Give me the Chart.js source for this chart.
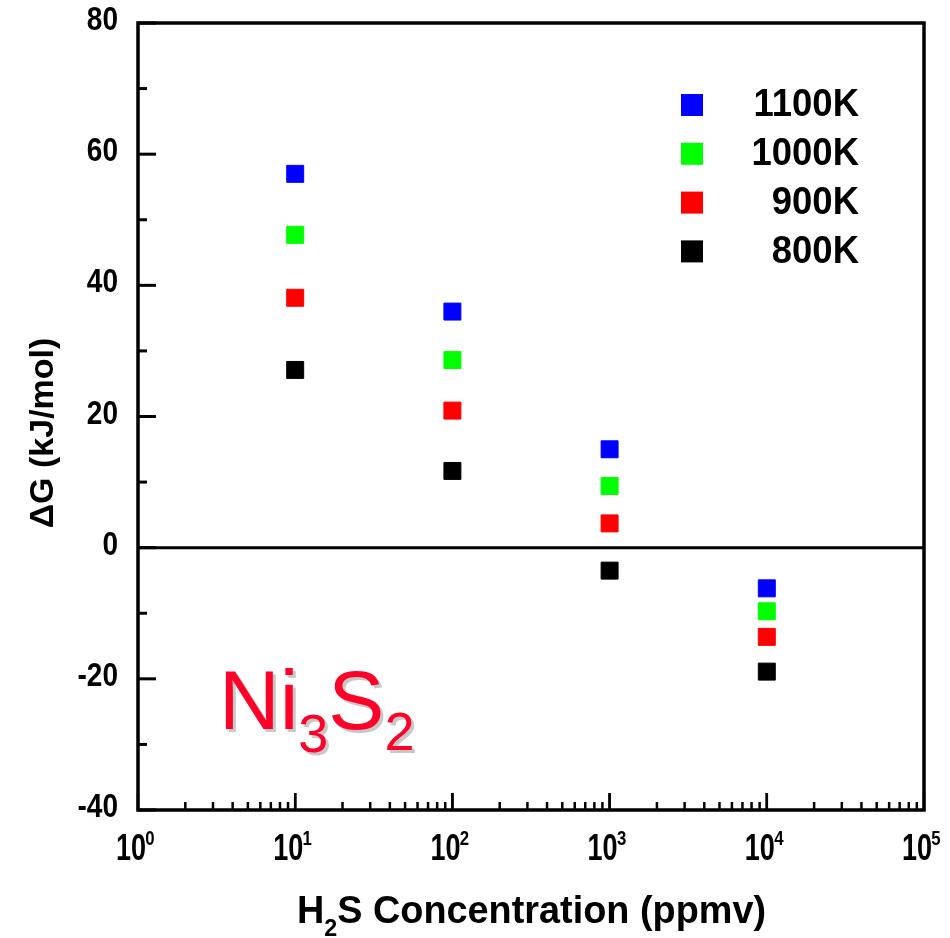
<html>
<head>
  <title>Ni3S2</title>
  <script src="https://cdn.jsdelivr.net/npm/chart.js@4.4.0/dist/chart.umd.min.js"></script>
  <style>
    html, body {
      width: 100%;
      height: 100%;
      margin: 0;
      overflow: hidden;
      background: white;
    }
    .graph {
      position: absolute;
      left: 0;
      top: 0;
      width: 950px;
      height: 938px;
    }
  </style>
</head>
<body>
  <div class="graph">
    <canvas id="graph-canvas" width="950" height="938"></canvas>
  </div>
  <script>
    // H2S concentration (ppmv) and dG (kJ/mol)
    const concentrations = [10, 100, 1000, 10000];
    const g1100 = [57.0, 36.0, 15.0, -6.2];
    const g1000 = [47.7, 28.6, 9.4, -9.7];
    const g900 = [38.1, 20.9, 3.7, -13.6];
    const g800 = [27.1, 11.7, -3.5, -18.9];

    const seriesLabels = ['1100K', '1000K', '900K', '800K'];
    const seriesColors = ['#0000ff', '#00ff00', '#ff0000', '#000000'];
    const yTicks = [-40, -20, 0, 20, 40, 60, 80];
    const xDecades = [0, 1, 2, 3, 4, 5];

    const FONT = '"Liberation Sans", Arial, sans-serif';

    function toPoints(vals) {
      return concentrations.map((c, i) => ({x: c, y: vals[i]}));
    }

    // text drawn squeezed sideways, like the original export
    function squeezed(ctx, text, x, y, sx, align) {
      ctx.save();
      ctx.translate(x, y);
      ctx.scale(sx, 1);
      ctx.textAlign = align;
      ctx.fillText(text, 0, 0);
      ctx.restore();
    }

    const framePlugin = {
      id: 'frame',
      afterDraw(chart) {
        const ctx = chart.ctx;
        const a = chart.chartArea;
        const xs = chart.scales.x;
        const ys = chart.scales.y;
        ctx.save();
        ctx.strokeStyle = '#000';
        ctx.fillStyle = '#000';

        // zero line
        ctx.lineWidth = 3;
        ctx.beginPath();
        ctx.moveTo(a.left, ys.getPixelForValue(0));
        ctx.lineTo(a.right, ys.getPixelForValue(0));
        ctx.stroke();

        // frame
        ctx.lineWidth = 3.5;
        ctx.beginPath();
        ctx.rect(a.left, a.top, a.right - a.left, a.bottom - a.top);
        ctx.stroke();

        // y ticks, pointing in
        ctx.lineWidth = 3;
        for (let v = -40; v <= 80; v += 10) {
          const py = ys.getPixelForValue(v);
          const len = v % 20 === 0 ? 18 : 9;
          ctx.beginPath();
          ctx.moveTo(a.left, py);
          ctx.lineTo(a.left + len, py);
          ctx.stroke();
        }
        // x ticks, pointing in
        ctx.lineWidth = 2.5;
        for (let d = 0; d < 5; d++) {
          for (let m = 1; m <= 10; m++) {
            const px = xs.getPixelForValue(m * Math.pow(10, d));
            const len = (m === 1 || m === 10) ? 17 : 8;
            ctx.beginPath();
            ctx.moveTo(px, a.bottom);
            ctx.lineTo(px, a.bottom - len);
            ctx.stroke();
          }
        }

        // y tick labels
        ctx.font = 'bold 33px ' + FONT;
        ctx.textBaseline = 'middle';
        yTicks.forEach(v => {
          squeezed(ctx, String(v), 118, ys.getPixelForValue(v) - 2, 0.85, 'right');
        });

        // x tick labels 10^n
        ctx.textBaseline = 'alphabetic';
        xDecades.forEach(d => {
          const px = xs.getPixelForValue(Math.pow(10, d));
          ctx.font = 'bold 36px ' + FONT;
          squeezed(ctx, '10', px - 7, 860, 0.75, 'center');
          ctx.font = 'bold 21px ' + FONT;
          squeezed(ctx, String(d), px + 12, 845, 0.8, 'center');
        });

        // x title with subscript
        ctx.textAlign = 'left';
        let tx = 297;
        ctx.font = 'bold 39px ' + FONT;
        squeezed(ctx, 'H', tx, 923, 0.97, 'left');
        tx += ctx.measureText('H').width * 0.97;
        ctx.font = 'bold 24px ' + FONT;
        squeezed(ctx, '2', tx, 936, 0.97, 'left');
        tx += ctx.measureText('2').width * 0.97;
        ctx.font = 'bold 39px ' + FONT;
        squeezed(ctx, 'S Concentration (ppmv)', tx, 923, 0.97, 'left');

        // y title
        ctx.save();
        ctx.translate(53, 433);
        ctx.rotate(-Math.PI / 2);
        ctx.font = 'bold 34px ' + FONT;
        ctx.textAlign = 'center';
        ctx.textBaseline = 'alphabetic';
        ctx.fillText('\u0394G (kJ/mol)', 0, 0);
        ctx.restore();

        // legend
        ctx.font = 'bold 38px ' + FONT;
        ctx.textBaseline = 'middle';
        seriesLabels.forEach((lab, i) => {
          const cy = 105 + i * 48.8;
          ctx.fillStyle = seriesColors[i];
          ctx.fillRect(681, cy - 11, 22, 22);
          ctx.fillStyle = '#000';
          squeezed(ctx, lab, 859, cy + 1, 0.96, 'right');
        });

        // Ni3S2 label with drop shadow
        const parts = [['Ni', 84, 729], ['3', 54, 752], ['S', 84, 729], ['2', 54, 750]];
        ctx.textAlign = 'left';
        ctx.textBaseline = 'alphabetic';
        [['#c8c8c8', 3], ['rgb(255,0,40)', 0]].forEach(([col, off]) => {
          let nx = 219;
          ctx.fillStyle = col;
          parts.forEach(([t, size, base]) => {
            ctx.font = size + 'px ' + FONT;
            ctx.fillText(t, nx + off, base + off);
            nx += ctx.measureText(t).width;
          });
        });

        ctx.restore();
      }
    };

    const ctx = document.getElementById('graph-canvas');
    new Chart(ctx, {
      type: 'scatter',
      data: {
        datasets: [g1100, g1000, g900, g800].map((vals, i) => ({
          label: seriesLabels[i],
          data: toPoints(vals),
          pointStyle: 'rect',
          pointRadius: 12,
          pointHoverRadius: 12,
          backgroundColor: seriesColors[i],
          borderColor: seriesColors[i],
          borderWidth: 1,
        })),
      },
      options: {
        responsive: false,
        animation: false,
        layout: {
          padding: {left: 138, right: 26, top: 23, bottom: 128},
        },
        scales: {
          x: {
            type: 'logarithmic',
            min: 1,
            max: 100000,
            display: false,
          },
          y: {
            type: 'linear',
            min: -40,
            max: 80,
            display: false,
          },
        },
        plugins: {
          legend: {display: false},
          tooltip: {enabled: false},
        },
      },
      plugins: [framePlugin],
    });
  </script>
</body>
</html>
